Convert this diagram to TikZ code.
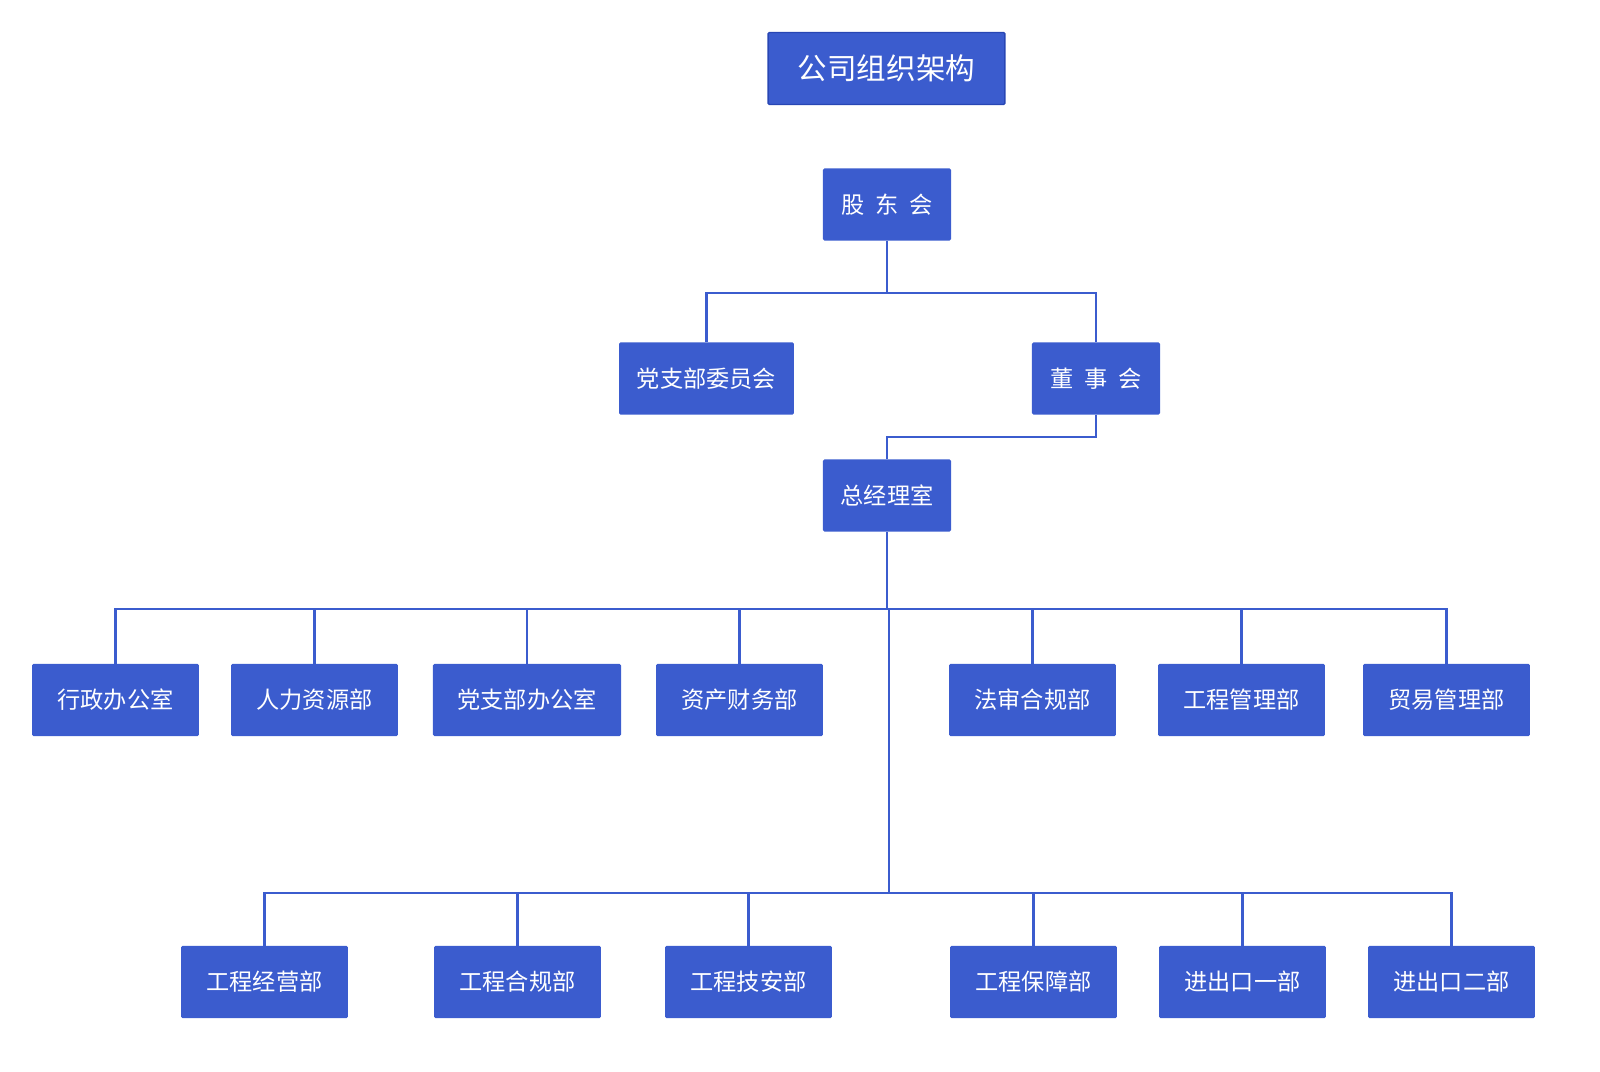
\documentclass[tikz,border=0pt]{standalone}
\usepackage{fontspec}
\setmainfont{Noto Sans CJK SC}
\definecolor{boxblue}{RGB}{59,92,206}
\definecolor{edgeblue}{RGB}{40,70,180}

\begin{document}
\begin{tikzpicture}[x = 0.025cm, y = -0.025cm, font=\fontsize{16.5}{20}\selectfont]
	\tikzstyle{unitStyle}=[shape = rectangle, fill = boxblue, text = white, minimum height = 1.8cm, inner sep = 0pt, rounded corners = 1pt]
	\tikzstyle{titleStyle}=[unitStyle, draw = edgeblue, line width = 1pt, font=\fontsize{21}{25}\selectfont]
	\tikzstyle{lineStyle}=[draw = boxblue, line width = 1.5pt]
	\useasboundingbox (0,0) rectangle (1600,1072);
	\node[titleStyle, minimum width = 5.92cm] (title) at (886.5, 68.5) {公司组织架构};
	\node[unitStyle, minimum width = 3.2cm] (gdh) at (887, 204.5) {股\ \ 东\ \ 会};
	\node[unitStyle, minimum width = 4.37cm] (dwh) at (706.5, 378.5) {党支部委员会};
	\node[unitStyle, minimum width = 3.2cm] (dsh) at (1096, 378.5) {董\ \ 事\ \ 会};
	\node[unitStyle, minimum width = 3.2cm] (zjl) at (887, 495.5) {总经理室};
	% first row of departments
	\node[unitStyle, minimum width = 4.17cm] (xz) at (115.5, 700) {行政办公室};
	\node[unitStyle, minimum width = 4.17cm] (rl) at (314.5, 700) {人力资源部};
	\node[unitStyle, minimum width = 4.7cm] (dzb) at (527, 700) {党支部办公室};
	\node[unitStyle, minimum width = 4.17cm] (zc) at (739.5, 700) {资产财务部};
	\node[unitStyle, minimum width = 4.17cm] (fs) at (1032.5, 700) {法审合规部};
	\node[unitStyle, minimum width = 4.17cm] (gcgl) at (1241.5, 700) {工程管理部};
	\node[unitStyle, minimum width = 4.17cm] (my) at (1446.5, 700) {贸易管理部};
	% second row of departments
	\node[unitStyle, minimum width = 4.17cm] (jy) at (264.5, 982) {工程经营部};
	\node[unitStyle, minimum width = 4.17cm] (hg) at (517.5, 982) {工程合规部};
	\node[unitStyle, minimum width = 4.17cm] (ja) at (748.5, 982) {工程技安部};
	\node[unitStyle, minimum width = 4.17cm] (bz) at (1033.5, 982) {工程保障部};
	\node[unitStyle, minimum width = 4.17cm] (jc1) at (1242.5, 982) {进出口一部};
	\node[unitStyle, minimum width = 4.17cm] (jc2) at (1451.5, 982) {进出口二部};
	\coordinate (c1) at (887, 293);
	\coordinate (c2) at (887, 609);
	\coordinate (c3) at (889, 609);
	\coordinate (c4) at (889, 893);
	\draw[lineStyle] (gdh) -- (c1);
	\foreach \n in {dwh, dsh}
		\draw[lineStyle] (c1) -| (\n);
	\draw[lineStyle] (dsh.south) |- (887, 437) -- (zjl.north);
	\draw[lineStyle] (zjl) -- (c2);
	\foreach \n in {xz, rl, dzb, zc, fs, gcgl, my}
		\draw[lineStyle] (c2) -| (\n);
	\draw[lineStyle] (c3) -- (c4);
	\foreach \n in {jy, hg, ja, bz, jc1, jc2}
		\draw[lineStyle] (c4) -| (\n);
\end{tikzpicture}
\end{document}
